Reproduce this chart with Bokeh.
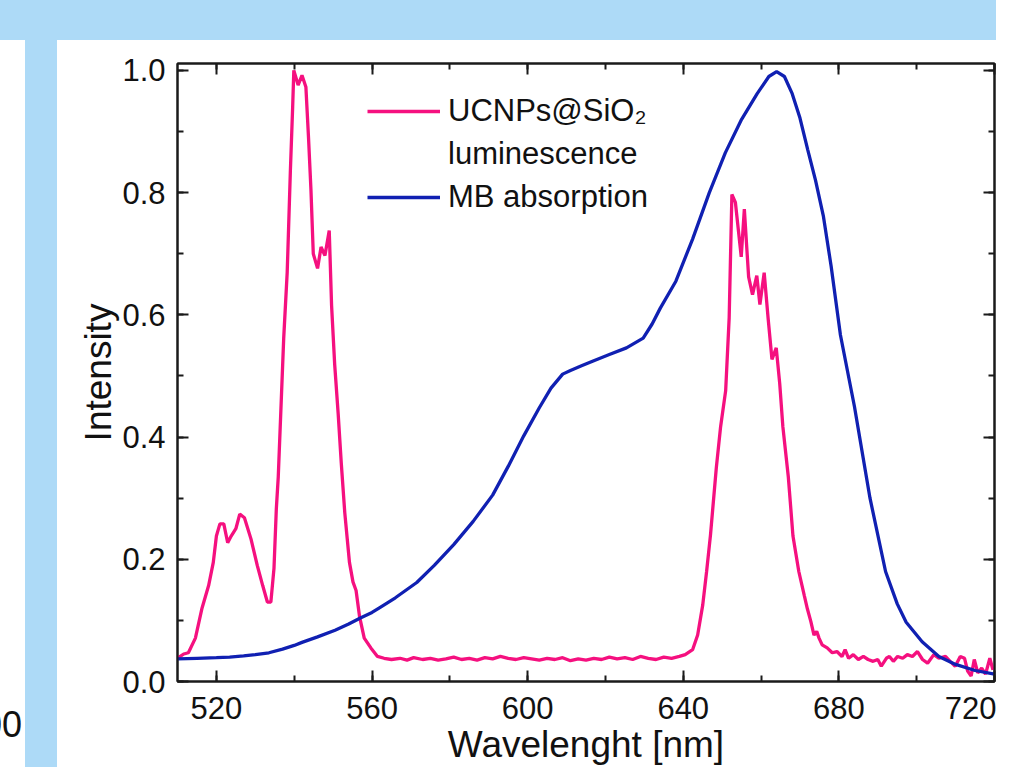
from bokeh.plotting import figure
from bokeh.models import (Range1d, LinearAxis, SingleIntervalTicker, PrintfTickFormatter,
                          CustomJSTickFormatter, Legend, LegendItem, Div)
from bokeh.layouts import row, column
from bokeh.embed import file_html
from bokeh.resources import INLINE

# ---------------- data ----------------
lum_wl = [510, 511.6, 512.8, 514.6, 516.3, 518, 519.2, 520, 520.9, 521.9, 522.9, 523.8, 525, 526,
          527.2, 528.9, 530.5, 531.9, 533.1, 534, 534.8, 535.4, 535.9, 537.3, 538.2, 539, 539.6,
          539.9, 541, 542, 543, 543.7, 544.3, 544.9, 546, 546.9, 547.9, 549, 549.6, 550.4, 551.3,
          552.1, 553, 554.2, 555.1, 555.9, 556.8, 558, 559.7, 561.4, 563.1, 565, 567.2, 569, 570.7,
          573, 575, 577, 579, 581, 583, 585, 587, 589, 591, 593, 595, 597, 599, 601, 603, 605, 607,
          609, 611, 613, 615, 617, 619, 621, 623, 625, 627, 629, 631, 633, 635, 637, 639, 640.5,
          642.4, 643.7, 645, 646, 647, 648.5, 649.6, 650.9, 651.8, 652.5, 653.4, 654.9, 655.7,
          656.8, 657.8, 658.9, 659.7, 660.8, 661.8, 662.8, 663.9, 664.8, 665.6, 667, 668.2, 669.7,
          671.1, 671.9, 672.8, 673.6, 674.3, 674.9, 675.7, 677, 678.3, 679.5, 680.8, 681.6, 682.5,
          683.7, 685, 686.3, 687.5, 688.8, 690, 690.9, 692.2, 693, 694, 695.1, 696.4, 697.6, 698.9,
          700.2, 701.5, 702.8, 704.4, 705.7, 707.4, 708.6, 709.9, 711.2, 712.3, 713.1, 714, 714.8,
          715.7, 716.7, 717.7, 718.8, 719.6]
lum_val = [0.038, 0.045, 0.047, 0.071, 0.12, 0.157, 0.195, 0.238, 0.258, 0.258, 0.227, 0.238, 0.25,
           0.274, 0.268, 0.233, 0.19, 0.157, 0.13, 0.13, 0.185, 0.282, 0.335, 0.562, 0.67, 0.833,
           0.94, 1.0, 0.976, 0.992, 0.973, 0.887, 0.805, 0.70, 0.676, 0.711, 0.697, 0.738, 0.616,
           0.519, 0.438, 0.357, 0.276, 0.195, 0.163, 0.149, 0.106, 0.071, 0.055, 0.041, 0.038,
           0.036, 0.038, 0.035, 0.039,
           0.036, 0.038, 0.035, 0.037, 0.040, 0.036, 0.038, 0.035, 0.039, 0.037, 0.041, 0.038,
           0.036, 0.039, 0.037, 0.035, 0.038, 0.036, 0.039, 0.034, 0.037, 0.035, 0.038, 0.036,
           0.040, 0.037, 0.039, 0.036, 0.041, 0.038, 0.036, 0.040, 0.038, 0.041, 0.044,
           0.052, 0.076, 0.125, 0.18, 0.24, 0.35, 0.417, 0.476, 0.595, 0.797, 0.784, 0.695, 0.773,
           0.662, 0.633, 0.664, 0.617, 0.669, 0.595, 0.527, 0.546, 0.487, 0.417, 0.335, 0.238, 0.18,
           0.141, 0.119, 0.098, 0.076, 0.082, 0.071, 0.06, 0.055, 0.047, 0.049, 0.041, 0.052, 0.038,
           0.044, 0.036, 0.041, 0.036, 0.033, 0.036, 0.025, 0.038, 0.041, 0.033, 0.041, 0.038, 0.044,
           0.041, 0.049, 0.036, 0.030, 0.044, 0.038, 0.041, 0.033, 0.025, 0.041, 0.038, 0.017,
           0.009, 0.036, 0.014, 0.022, 0.012, 0.038, 0.019]

abs_wl = [510, 515, 520, 523.4, 527, 530, 533.5, 537, 540, 542, 546, 550.5, 554, 557, 560, 562,
          566, 571.5, 576, 581, 586, 591, 595, 599, 603, 606, 609, 611, 614, 617, 621, 625.4,
          629.7, 632, 634.1, 638.1, 642.4, 646.7, 650.8, 655, 659, 662, 664, 666, 668, 670, 672,
          674, 676, 678, 680.4, 684, 688, 692, 695, 697.3, 701.4, 705.7, 710, 715, 720]
abs_val = [0.037, 0.038, 0.039, 0.040, 0.042, 0.044, 0.047, 0.053, 0.059, 0.064, 0.073, 0.084,
           0.094, 0.104, 0.113, 0.121, 0.137, 0.162, 0.19, 0.224, 0.262, 0.305, 0.352, 0.402,
           0.448, 0.48, 0.503, 0.509, 0.517, 0.525, 0.535, 0.546, 0.562, 0.585, 0.611, 0.655,
           0.724, 0.80, 0.865, 0.92, 0.962, 0.99, 0.998, 0.99, 0.962, 0.922, 0.87, 0.82, 0.762,
           0.68, 0.567, 0.45, 0.30, 0.18, 0.127, 0.097, 0.065, 0.041, 0.028, 0.018, 0.012]

legend_labels = ["UCNPs@SiO\u2082", "luminescence", "MB absorption"]
x_label = "Wavelenght [nm]"
y_label = "Intensity"
side_text = "00"

# ---------------- style ----------------
BLUE_BG = "#ADDAF7"
PINK = "#F5107F"
NAVY = "#1020B2"
INK = "#1a1a1a"
FONT = "Liberation Sans"

p = figure(width=939, height=727, x_range=Range1d(510, 720), y_range=Range1d(0, 1.0113),
           output_backend="svg", toolbar_location=None,
           min_border_left=120, min_border_right=2, min_border_top=23, min_border_bottom=84,
           x_axis_label=x_label, y_axis_label=y_label)
p.background_fill_color = "white"
p.border_fill_color = "white"
p.outline_line_color = INK
p.outline_line_width = 2
p.xgrid.grid_line_color = None
p.ygrid.grid_line_color = None

xb = p.below[0]
yl = p.left[0]

r_lum = p.line(lum_wl, lum_val, line_color=PINK, line_width=3.3)
r_abs = p.line(abs_wl, abs_val, line_color=NAVY, line_width=3.3)
r_dummy = p.line(x=[], y=[], line_alpha=0)

top_ax = LinearAxis()
right_ax = LinearAxis()
p.add_layout(top_ax, "above")
p.add_layout(right_ax, "right")

for ax in [xb, top_ax]:
    ax.ticker = SingleIntervalTicker(interval=40, num_minor_ticks=2)
for ax in [yl, right_ax]:
    ax.ticker = SingleIntervalTicker(interval=0.2, num_minor_ticks=2)
yl.formatter = PrintfTickFormatter(format="%.1f")

for ax in [xb, yl, top_ax, right_ax]:
    ax.axis_line_color = INK
    ax.axis_line_width = 2
    ax.major_tick_line_color = INK
    ax.major_tick_line_width = 2
    ax.minor_tick_line_color = INK
    ax.minor_tick_line_width = 2
    ax.major_tick_out = 0
    ax.minor_tick_out = 0
    ax.major_tick_in = 11
    ax.minor_tick_in = 6
    ax.major_label_text_font = FONT
    ax.major_label_text_font_size = "31px"
    ax.major_label_text_color = "#111111"
    ax.axis_label_text_font = FONT
    ax.axis_label_text_font_style = "normal"
    ax.axis_label_text_font_size = "37px"
    ax.axis_label_text_color = "#111111"

for ax in [top_ax, right_ax]:
    ax.formatter = CustomJSTickFormatter(code="return ''")
    ax.major_label_text_font_size = "8px"
    ax.major_label_standoff = 0

xb.major_label_standoff = 15
xb.axis_label_standoff = 2
yl.major_label_standoff = 12
yl.axis_label_standoff = 0

legend = Legend(items=[LegendItem(label=legend_labels[0], renderers=[r_lum]),
                       LegendItem(label=legend_labels[1], renderers=[r_dummy]),
                       LegendItem(label=legend_labels[2], renderers=[r_abs])],
                location=(190, 464))
legend.padding = 0
legend.margin = 0
legend.spacing = 3
legend.border_line_alpha = 0
legend.background_fill_alpha = 0
legend.glyph_width = 73
legend.glyph_height = 40
legend.label_height = 40
legend.label_standoff = 8
legend.label_text_font = FONT
legend.label_text_font_size = "31px"
legend.label_text_color = "#111111"
p.add_layout(legend)

top_band = Div(width=996, height=40, margin=0, styles={"background-color": BLUE_BG})
left_white = Div(text=side_text, width=25, height=727, margin=0,
                 styles={"background-color": "white", "direction": "rtl", "text-align": "right",
                         "font-family": FONT, "font-size": "36px", "line-height": "1",
                         "padding-top": "667px", "padding-right": "3px", "overflow": "visible",
                         "white-space": "nowrap", "color": "#111111", "box-sizing": "border-box"})
left_band = Div(width=32, height=727, margin=0, styles={"background-color": BLUE_BG})

layout = column(top_band, row(left_white, left_band, p, spacing=0), spacing=0)

open("out.html", "w").write(file_html(layout, INLINE))
